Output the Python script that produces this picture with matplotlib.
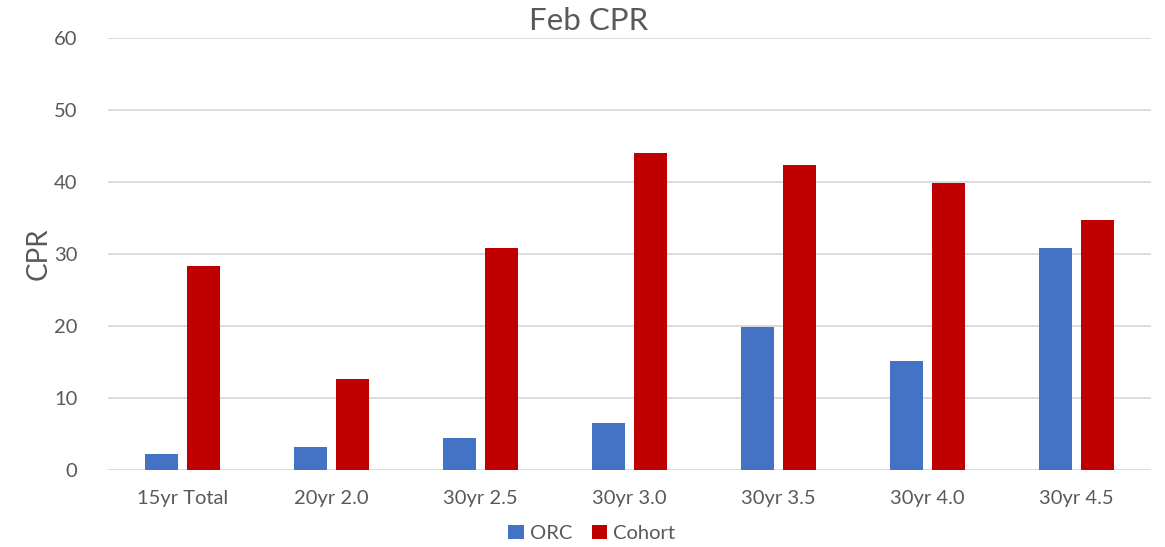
import matplotlib.pyplot as plt
import numpy as np

categories = ["15yr Total", "20yr 2.0", "30yr 2.5", "30yr 3.0", "30yr 3.5", "30yr 4.0", "30yr 4.5"]
orc = [2.3, 3.2, 4.5, 6.6, 19.9, 15.2, 30.9]
cohort = [28.4, 12.7, 30.8, 44.0, 42.4, 39.8, 34.7]

plt.rcParams["font.family"] = ["Lato", "DejaVu Sans"]
text_color = "#595959"

fig = plt.figure(figsize=(11.65, 5.47), dpi=100)
ax = fig.add_axes([0.0927, 0.1399, 0.8953, 0.7915])

x = np.arange(len(categories))
width = 0.22
offset = 0.143
ax.bar(x - offset, orc, width, color="#4472C4", label="ORC", zorder=3)
ax.bar(x + offset, cohort, width, color="#C00000", label="Cohort", zorder=3)

ax.set_xlim(-0.5, len(categories) - 0.5)
ax.set_ylim(0, 60)
ax.set_yticks(range(0, 61, 10))
ax.set_xticks(x)
ax.set_xticklabels(categories)
ax.yaxis.grid(True, color="#d9d9d9", lw=1.3, zorder=0)
for s in ax.spines.values():
    s.set_visible(False)
ax.tick_params(axis="both", length=0, labelsize=14.5, colors=text_color)
ax.tick_params(axis="x", pad=14)
ax.tick_params(axis="y", pad=22)

ax.set_ylabel("CPR", fontsize=20, color=text_color, labelpad=2)
fig.text(0.505, 0.962, "Feb CPR", fontsize=22.5, color=text_color, ha="center", va="center")

leg = fig.legend(loc="center", bbox_to_anchor=(0.508, 0.025), ncol=2, frameon=False,
                 fontsize=14.5, handlelength=0.75, handleheight=0.75, handletextpad=0.3,
                 columnspacing=1.0)
for t in leg.get_texts():
    t.set_color(text_color)

fig.savefig("out.png", dpi=100)
